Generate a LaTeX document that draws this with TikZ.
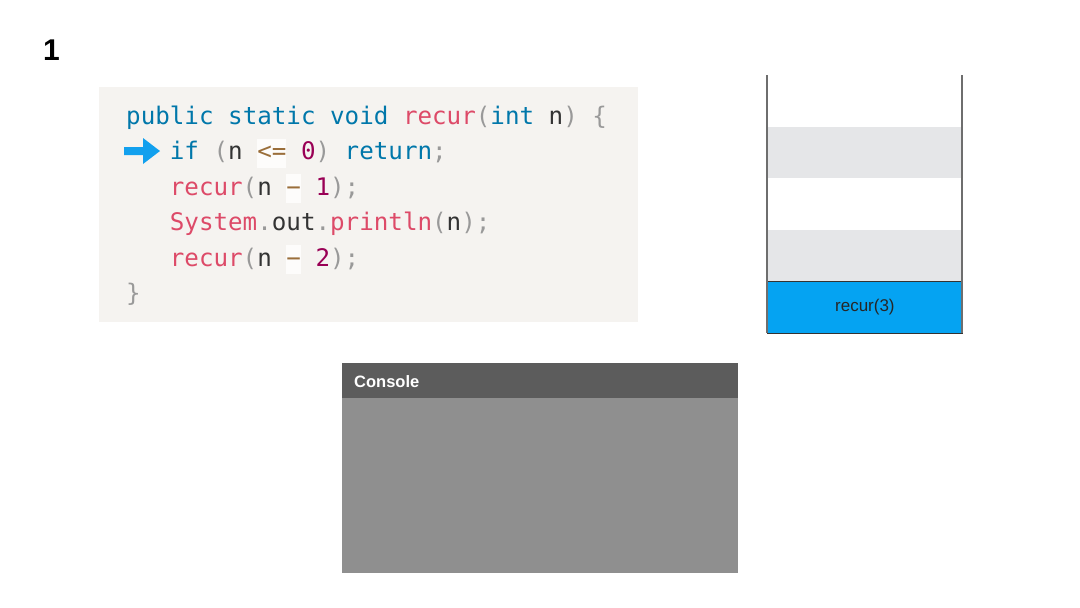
\documentclass[tikz,border=0pt]{standalone}
\usepackage{fontspec}
\setmainfont{Liberation Sans}
\newfontfamily\codefont{DejaVu Sans Mono}
\definecolor{codebg}{HTML}{F5F3F0}
\definecolor{kw}{HTML}{0077AA}
\definecolor{fn}{HTML}{DD4A68}
\definecolor{opc}{HTML}{9A6E3A}
\definecolor{num}{HTML}{990055}
\definecolor{punc}{HTML}{999999}
\definecolor{txt}{HTML}{333333}
\definecolor{opbg}{HTML}{FDFCFB}
\definecolor{arrowblue}{HTML}{12A0EE}
\definecolor{stackgray}{HTML}{E5E6E8}
\definecolor{stackline}{HTML}{6E6E6E}
\definecolor{frameblue}{HTML}{05A3F2}
\definecolor{conhead}{HTML}{5C5C5C}
\definecolor{conbody}{HTML}{8F8F8F}
\newcommand{\K}[1]{\textcolor{kw}{#1}}
\newcommand{\F}[1]{\textcolor{fn}{#1}}
\newcommand{\N}[1]{\textcolor{num}{#1}}
\newcommand{\Pu}[1]{\textcolor{punc}{#1}}
\newcommand{\T}[1]{\textcolor{txt}{#1}}
\newcommand{\Op}[1]{{\setlength{\fboxsep}{0pt}\colorbox{opbg}{\rule[-8pt]{0pt}{29pt}\textcolor{opc}{#1}}}}
\newcommand{\Mn}{\symbol{"2212}}
\begin{document}
\begin{tikzpicture}[x=1pt,y=-1pt,
  codeline/.style={anchor=base west,inner sep=0pt,font=\codefont\fontsize{24.2}{28}\selectfont},
  stackband/.style={fill=stackgray,draw=none},
]
\useasboundingbox[fill=white] (0,0) rectangle (1080,608);
% slide number
\node[anchor=base west,inner sep=0pt,font=\bfseries\fontsize{30}{34}\selectfont] (num) at (43,60) {1};
% code box
\fill[codebg] (99,87) rectangle (638,322);
\node[codeline] (l1) at (126,124) {\K{public}\ \K{static}\ \K{void}\ \F{recur}\Pu{(}\K{int}\ \T{n}\Pu{)}\ \Pu{\{}};
\node[codeline] (l2) at (169.7,159.5) {\K{if}\ \Pu{(}\T{n}\ \Op{<=}\ \N{0}\Pu{)}\ \K{return}\Pu{;}};
\node[codeline] (l3) at (169.7,195) {\F{recur}\Pu{(}\T{n}\ \Op{\Mn}\ \N{1}\Pu{)}\Pu{;}};
\node[codeline] (l4) at (169.7,230.5) {\F{System}\Pu{.}\T{out}\Pu{.}\F{println}\Pu{(}\T{n}\Pu{)}\Pu{;}};
\node[codeline] (l5) at (169.7,266) {\F{recur}\Pu{(}\T{n}\ \Op{\Mn}\ \N{2}\Pu{)}\Pu{;}};
\node[codeline] (l6) at (126,301.5) {\Pu{\}}};
% current-line arrow
\fill[arrowblue] (124,147) -- (143,147) -- (143,138) -- (160,151) -- (143,164) -- (143,155) -- (124,155) -- cycle;
% call stack
\fill[stackband] (767,127) rectangle (962,178);
\fill[stackband] (767,230) rectangle (962,281);
\node[draw=black!80,line width=0.8pt,fill=frameblue,minimum width=195pt,minimum height=52pt,inner sep=0pt,anchor=north west,font=\fontsize{17}{20}\selectfont,text=black!85] (frame) at (767,281) {recur(3)};
\draw[stackline,line width=2pt] (767,75) -- (767,333);
\draw[stackline,line width=2pt] (962,75) -- (962,333);
% console
\fill[conbody] (342,363) rectangle (738,573);
\fill[conhead] (342,363) rectangle (738,398);
\node[anchor=base west,inner sep=0pt,text=white,font=\bfseries\fontsize{16.5}{19}\selectfont] (console) at (354,387) {Console};
\end{tikzpicture}
\end{document}
